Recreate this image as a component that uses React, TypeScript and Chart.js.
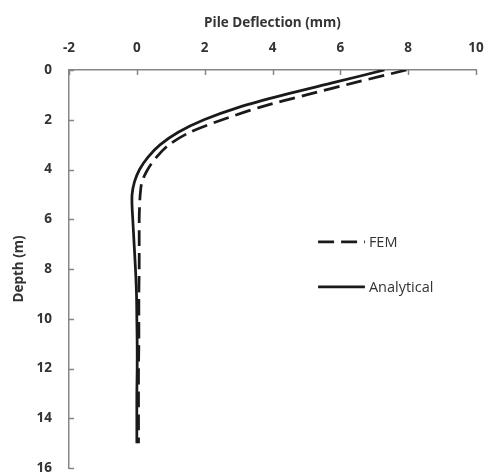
import React, { useEffect, useRef } from "react";
import { Chart, registerables } from "chart.js";

Chart.register(...registerables);

const depth: number[] = [0, 0.5, 1, 1.5, 2, 2.5, 3, 3.5, 4, 4.5, 5, 5.5, 6, 7, 8, 9, 10, 11, 12, 13, 14, 15];
const femDeflection: number[] = [7.95, 6.45, 5.0, 3.62, 2.52, 1.57, 0.95, 0.58, 0.32, 0.15, 0.1, 0.08, 0.07, 0.07, 0.07, 0.06, 0.06, 0.06, 0.05, 0.05, 0.05, 0.05];
const analyticalDeflection: number[] = [7.3, 5.82, 4.33, 3.0, 1.98, 1.22, 0.69, 0.33, 0.08, -0.07, -0.14, -0.14, -0.12, -0.08, -0.04, -0.01, 0.0, 0.01, 0.01, 0.0, 0.0, 0.0];
const seriesNames: string[] = ["FEM", "Analytical"];
const xTitle = "Pile Deflection (mm)";
const yTitle = "Depth (m)";

const FONT = "'Open Sans', Lato, sans-serif";
const AXIS_GRAY = "#868686";
const TEXT = "#333333";
const FS = 13.5;

const innerTicks = {
  id: "innerTicks",
  afterDraw(chart: any) {
    const { ctx, chartArea, scales } = chart;
    ctx.save();
    ctx.strokeStyle = AXIS_GRAY;
    ctx.lineWidth = 1.5;
    const xs = scales.x;
    xs.ticks.forEach((t: any) => {
      const px = Math.round(xs.getPixelForValue(t.value)) + 0.5;
      ctx.beginPath();
      ctx.moveTo(px, chartArea.top);
      ctx.lineTo(px, chartArea.top + 5);
      ctx.stroke();
    });
    const ys = scales.y;
    ys.ticks.forEach((t: any) => {
      const py = Math.round(ys.getPixelForValue(t.value)) + 0.5;
      ctx.beginPath();
      ctx.moveTo(chartArea.left, py);
      ctx.lineTo(chartArea.left + 5, py);
      ctx.stroke();
    });
    ctx.restore();
  },
};

const customLegend = {
  id: "customLegend",
  afterDraw(chart: any) {
    const { ctx, chartArea } = chart;
    const w = chartArea.right - chartArea.left;
    const h = chartArea.bottom - chartArea.top;
    const x0 = chartArea.left + w * 0.612;
    const x1 = chartArea.left + w * 0.727;
    const rows = [0.432, 0.545];
    ctx.save();
    chart.data.datasets.forEach((ds: any, i: number) => {
      const y = chartArea.top + h * rows[i];
      ctx.strokeStyle = ds.borderColor;
      ctx.lineWidth = ds.borderWidth;
      ctx.setLineDash(ds.borderDash || []);
      ctx.beginPath();
      ctx.moveTo(x0, y);
      ctx.lineTo(x1, y);
      ctx.stroke();
      ctx.setLineDash([]);
      ctx.fillStyle = TEXT;
      ctx.font = `14.5px ${FONT}`;
      ctx.textBaseline = "middle";
      ctx.textAlign = "left";
      ctx.fillText(ds.label, x1 + 4, y + 1);
    });
    ctx.restore();
  },
};

export default function App() {
  const ref = useRef<HTMLCanvasElement | null>(null);
  useEffect(() => {
    if (!ref.current) return;
    const chart = new Chart(ref.current, {
      type: "scatter",
      data: {
        datasets: [
          {
            label: seriesNames[0],
            data: depth.map((d, i) => ({ x: femDeflection[i], y: d })),
            showLine: true,
            borderColor: "#1a1a1a",
            borderWidth: 2.75,
            borderDash: [16, 7],
            pointRadius: 0,
            tension: 0.3,
            fill: false,
          },
          {
            label: seriesNames[1],
            data: depth.map((d, i) => ({ x: analyticalDeflection[i], y: d })),
            showLine: true,
            borderColor: "#1a1a1a",
            borderWidth: 2.75,
            pointRadius: 0,
            tension: 0.3,
            fill: false,
          },
        ],
      },
      options: {
        responsive: false,
        animation: false,
        layout: { padding: { left: 0, right: 11, top: 0, bottom: 7 } },
        plugins: {
          legend: { display: false },
          tooltip: { enabled: false },
        },
        scales: {
          x: {
            type: "linear",
            position: "top",
            min: -2,
            max: 10,
            ticks: {
              stepSize: 2,
              color: TEXT,
              font: { family: FONT, size: FS, weight: "bold" },
              padding: 14,
            },
            grid: { display: true, drawOnChartArea: false, drawTicks: false },
            border: { display: true, color: AXIS_GRAY, width: 1.5 },
            title: {
              display: true,
              text: xTitle,
              color: TEXT,
              font: { family: FONT, size: FS, weight: "bold" },
              padding: { top: 15, bottom: 0 },
            },
            afterFit: (s: any) => {
              s.height = 70;
              s.paddingLeft = 0;
              s.paddingRight = 0;
            },
          },
          y: {
            type: "linear",
            reverse: true,
            min: 0,
            max: 16,
            ticks: {
              stepSize: 2,
              color: TEXT,
              font: { family: FONT, size: FS, weight: "bold" },
              padding: 17,
            },
            grid: { display: true, drawOnChartArea: false, drawTicks: false },
            border: { display: true, color: AXIS_GRAY, width: 1.5 },
            title: {
              display: true,
              text: yTitle,
              color: TEXT,
              font: { family: FONT, size: FS, weight: "bold" },
              padding: { top: 11, bottom: 0 },
            },
            afterFit: (s: any) => {
              s.width = 69;
              s.paddingTop = 0;
              s.paddingBottom = 0;
            },
          },
        },
      },
      plugins: [innerTicks, customLegend],
    });
    return () => chart.destroy();
  }, []);
  return (
    <div style={{ position: "fixed", left: 0, top: 0, width: 487, height: 475, background: "#fff" }}>
      <canvas ref={ref} width={487} height={475} style={{ width: 487, height: 475 }} />
    </div>
  );
}
